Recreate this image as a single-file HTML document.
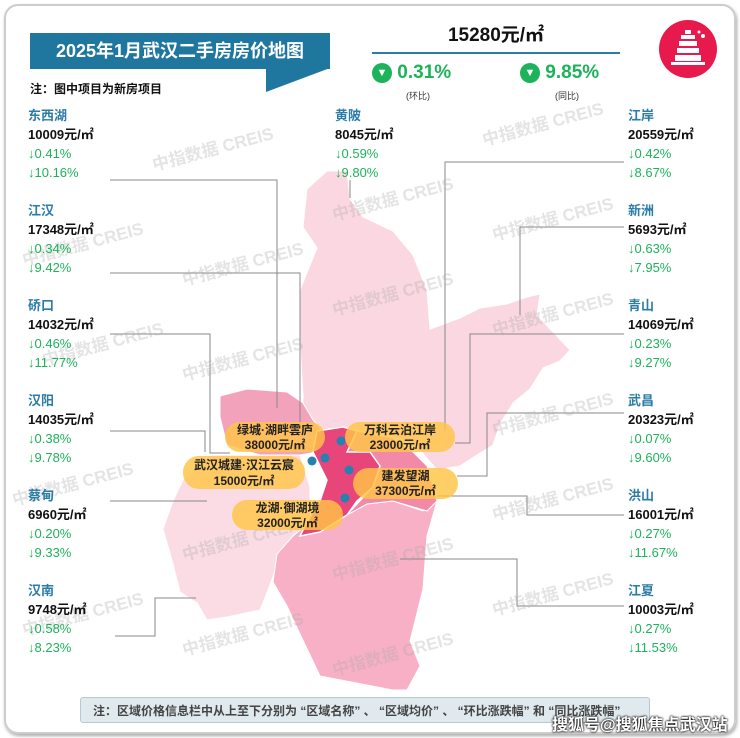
<!DOCTYPE html>
<html><head><meta charset="utf-8"><style>
body{margin:0;width:740px;height:738px;background:#fff;font-family:"Liberation Sans","Noto Sans CJK SC",sans-serif;position:relative;overflow:hidden}
.abs{position:absolute}
.lab{position:absolute;font-weight:bold;font-size:13px;line-height:19px}
.lab .n{color:#2b7ca6}
.lab .p{color:#111}
.lab .g{color:#1db35a;font-weight:normal}
.wm{position:absolute;color:rgba(170,170,170,0.32);font-size:17px;font-weight:bold;transform:rotate(-15deg);white-space:nowrap}
.pill{position:absolute;background:rgba(255,196,70,0.82);border-radius:16px;text-align:center;font-weight:bold;font-size:12px;line-height:15px;color:#222;padding-top:1px}
</style></head><body>
<div class="abs" style="left:4px;top:4px;width:728px;height:726px;border:2px solid #ccc;border-radius:14px;box-shadow:1px 2px 3px #aaa"></div>
<svg class="abs" style="left:0;top:0" width="740" height="738">
<polygon fill="#fbd7e1" stroke="#fff" stroke-width="1" points="307,189 327,171 347,171 350,199 363,217 393,231 413,255 427,290 430,329 460,318 480,308 507,304 527,297 540,294 537,315 553,332 570,350 560,361 543,368 530,389 513,403 500,424 493,445 477,455 460,466 437,470 420,450 400,438 357,431 323,431 313,420 303,403 303,396 300,343 300,290 317,248 303,227"/>
<polygon fill="#f2a3bb" stroke="#fff" stroke-width="1" points="220,396 247,389 287,392 303,403 313,420 323,431 317,452 300,455 260,455 227,445 220,417"/>
<polygon fill="#fbdce5" stroke="#fff" stroke-width="1" points="183,480 210,455 300,455 310,487 310,522 293,536 280,557 270,585 260,610 227,617 207,620 197,603 180,592 173,564 163,529 173,501"/>
<polygon fill="#f7b0c5" stroke="#fff" stroke-width="1" points="310,522 333,522 367,504 393,501 423,511 437,501 427,536 423,589 410,641 420,666 407,690 393,690 320,676 300,634 287,606 273,582 277,554 293,536"/>
<polygon fill="#f389a9" stroke="#fff" stroke-width="1" points="357,431 393,438 413,452 427,466 437,501 427,511 393,501 367,504 347,515 373,487 380,466 370,452 347,452"/>
<polygon fill="#e8457a" stroke="#fff" stroke-width="1.5" points="317,431 343,427 357,431 347,452 370,452 380,466 373,487 357,501 347,515 320,532 300,536 307,522 320,501 327,480 320,466 313,452"/>
<g stroke="#888" stroke-width="1" fill="none">
<polyline points="110,180 277,180 277,408"/>
<polyline points="110,273 300,273 300,424"/>
<polyline points="110,334 210,334 210,453 230,453"/>
<polyline points="110,431 205,431 205,452"/>
<polyline points="110,501 207,501"/>
<polyline points="115,636 155,636 155,598 196,598"/>
<polyline points="350,180 350,198"/>
<polyline points="624,162 445,162 445,431"/>
<polyline points="624,227 520,227 520,315"/>
<polyline points="624,334 470,334 470,443 455,443"/>
<polyline points="624,413 487,413 487,476 457,476"/>
<polyline points="624,515 527,515 527,496 437,496"/>
<polyline points="624,606 517,606 517,559 400,559"/>
</g>
<g fill="#2680b0">
<circle cx="341" cy="441" r="4.5"/><circle cx="312" cy="461" r="4.5"/><circle cx="325" cy="458" r="4.5"/><circle cx="349" cy="470" r="4.5"/><circle cx="345" cy="498" r="4.5"/>
</g>
</svg>
<div class="wm" style="left:150px;top:135px">中指数据 CREIS</div>
<div class="wm" style="left:480px;top:110px">中指数据 CREIS</div>
<div class="wm" style="left:330px;top:185px">中指数据 CREIS</div>
<div class="wm" style="left:490px;top:205px">中指数据 CREIS</div>
<div class="wm" style="left:20px;top:230px">中指数据 CREIS</div>
<div class="wm" style="left:180px;top:250px">中指数据 CREIS</div>
<div class="wm" style="left:330px;top:280px">中指数据 CREIS</div>
<div class="wm" style="left:490px;top:300px">中指数据 CREIS</div>
<div class="wm" style="left:40px;top:330px">中指数据 CREIS</div>
<div class="wm" style="left:180px;top:345px">中指数据 CREIS</div>
<div class="wm" style="left:490px;top:400px">中指数据 CREIS</div>
<div class="wm" style="left:10px;top:470px">中指数据 CREIS</div>
<div class="wm" style="left:490px;top:485px">中指数据 CREIS</div>
<div class="wm" style="left:180px;top:525px">中指数据 CREIS</div>
<div class="wm" style="left:330px;top:545px">中指数据 CREIS</div>
<div class="wm" style="left:490px;top:580px">中指数据 CREIS</div>
<div class="wm" style="left:180px;top:620px">中指数据 CREIS</div>
<div class="wm" style="left:20px;top:600px">中指数据 CREIS</div>
<div class="wm" style="left:330px;top:640px">中指数据 CREIS</div>

<div class="abs" style="left:30px;top:33px;width:300px;height:36px;background:#1f77a0;color:#fff;font-weight:bold;font-size:18px;line-height:36px;text-align:center">2025年1月武汉二手房房价地图</div>
<svg class="abs" style="left:266px;top:68px" width="64" height="24"><polygon points="0,0 64,0 0,24" fill="#1f77a0"/></svg>
<div class="abs" style="left:30px;top:80px;font-size:12px;font-weight:bold;color:#111">注：图中项目为新房项目</div>
<div class="abs" style="left:372px;top:20px;width:248px;text-align:center;font-size:19px;font-weight:bold;color:#111">15280元/㎡</div>
<div class="abs" style="left:372px;top:52px;width:248px;height:2px;background:#2b7ca6"></div>
<div class="abs" style="left:372px;top:62px;font-size:19px;color:#1db35a;font-weight:bold"><span style="display:inline-block;width:20px;height:20px;border-radius:50%;background:#1db35a;color:#fff;font-size:11px;line-height:20px;text-align:center;vertical-align:2px">▼</span> 0.31%</div>
<div class="abs" style="left:406px;top:89px;font-size:9px;color:#333">(环比)</div>
<div class="abs" style="left:520px;top:62px;font-size:19px;color:#1db35a;font-weight:bold"><span style="display:inline-block;width:20px;height:20px;border-radius:50%;background:#1db35a;color:#fff;font-size:11px;line-height:20px;text-align:center;vertical-align:2px">▼</span> 9.85%</div>
<div class="abs" style="left:555px;top:89px;font-size:9px;color:#333">(同比)</div>
<svg class="abs" style="left:659px;top:20px" width="58" height="58"><circle cx="29" cy="29" r="29" fill="#e8194d"/><g fill="#fff"><rect x="26" y="10" width="6" height="4"/><rect x="22" y="15" width="14" height="4"/><rect x="20" y="21" width="18" height="5"/><rect x="18" y="28" width="22" height="5"/><rect x="16" y="35" width="26" height="6"/><rect x="12" y="42" width="34" height="3"/><circle cx="44" cy="16" r="2"/><circle cx="40" cy="12" r="1.5"/></g></svg>

<div id="labels"></div>

<div class="pill" style="left:225px;top:422px;width:100px;height:29px">绿城·湖畔雲庐<br>38000元/㎡</div>
<div class="pill" style="left:345px;top:422px;width:110px;height:29px">万科云泊江岸<br>23000元/㎡</div>
<div class="pill" style="left:183px;top:456px;width:122px;height:32px;line-height:16px">武汉城建·汉江云宸<br>15000元/㎡</div>
<div class="pill" style="left:353px;top:468px;width:105px;height:30px">建发望湖<br>37300元/㎡</div>
<div class="pill" style="left:232px;top:500px;width:111px;height:29px">龙湖·御湖境<br>32000元/㎡</div>

<div class="abs" style="left:80px;top:697px;width:570px;height:26px;background:#dfe9ee;border:1px solid #b8c8d0;border-radius:3px;font-size:12px;font-weight:bold;color:#444;line-height:26px;padding-left:12px;box-sizing:border-box;white-space:nowrap">注：区域价格信息栏中从上至下分别为 “区域名称” 、 “区域均价” 、 “环比涨跌幅” 和 “同比涨跌幅”</div>
<div class="abs" style="left:552px;top:711px;font-size:16px;font-weight:bold;color:#fff;text-shadow:0 0 2px #000,0 0 2px #000">搜狐号@搜狐焦点武汉站</div>

<script>
const names=["东西湖","江汉","硚口","汉阳","蔡甸","汉南","黄陂","江岸","新洲","青山","武昌","洪山","江夏"];
const prices=[10009,17348,14032,14035,6960,9748,8045,20559,5693,14069,20323,16001,10003];
const mom=["0.41","0.34","0.46","0.38","0.20","0.58","0.59","0.42","0.63","0.23","0.07","0.27","0.27"];
const yoy=["10.16","9.42","11.77","9.78","9.33","8.23","9.80","8.67","7.95","9.27","9.60","11.67","11.53"];
const slotX=[28,28,28,28,28,28,335,628,628,628,628,628,628];
const slotRow=[0,1,2,3,4,5,0,0,1,2,3,4,5];
const c=document.getElementById('labels');
names.forEach((n,i)=>{
 const d=document.createElement('div');
 d.className='lab';
 
 
 d.style.left=slotX[i]+'px';
 d.style.top=(106+slotRow[i]*95)+'px';
 d.innerHTML='<div class="n">'+n+'</div><div class="p">'+prices[i]+'元/㎡</div><div class="g">↓'+mom[i]+'%</div><div class="g">↓'+yoy[i]+'%</div>';
 c.appendChild(d);
});
</script>
</body></html>
